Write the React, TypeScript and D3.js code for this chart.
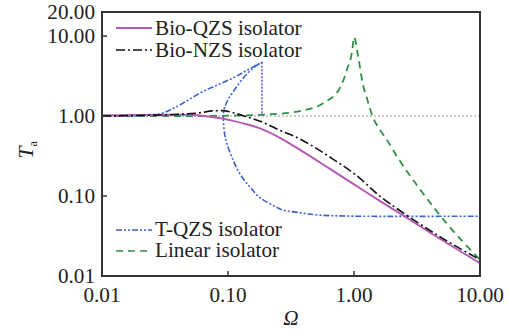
import React from "react";
import * as d3 from "d3";

// ---- Data ----
const xTicks = [0.01, 0.1, 1, 10];
const xTickLabels = ["0.01", "0.10", "1.00", "10.00"];
const yTicks = [0.01, 0.1, 1, 10, 20];
const yTickLabels = ["0.01", "0.10", "1.00", "10.00", "20.00"];

const bioQzsOmega = [0.01, 0.02, 0.04, 0.053, 0.072, 0.09, 0.11, 0.14, 0.18, 0.26, 0.37, 0.64, 1.0, 1.6, 2.6, 4.0, 10];
const bioQzsTa = [1.02, 1.03, 1.04, 1.03, 0.98, 0.93, 0.87, 0.79, 0.7, 0.53, 0.38, 0.22, 0.14, 0.087, 0.054, 0.035, 0.0145];

const bioNzsOmega = [0.01, 0.02, 0.04, 0.06, 0.075, 0.09, 0.11, 0.14, 0.18, 0.26, 0.37, 0.47, 0.68, 1.05, 1.6, 2.6, 4.8, 10];
const bioNzsTa = [1.0, 1.02, 1.05, 1.1, 1.16, 1.17, 1.1, 0.98, 0.86, 0.66, 0.52, 0.42, 0.29, 0.18, 0.1, 0.058, 0.031, 0.016];

const tQzsOmega = [0.01, 0.02, 0.028, 0.035, 0.044, 0.06, 0.08, 0.109, 0.14, 0.186,
  0.158, 0.13, 0.112, 0.1, 0.093, 0.092, 0.094, 0.098, 0.11, 0.124, 0.149, 0.18, 0.24, 0.27, 0.37, 0.51, 1.0, 10];
const tQzsTa = [1.0, 1.01, 1.05, 1.2, 1.45, 1.94, 2.4, 2.98, 3.7, 4.7,
  3.98, 2.9, 2.1, 1.6, 1.2, 0.9, 0.6, 0.45, 0.28, 0.19, 0.13, 0.095, 0.073, 0.067, 0.062, 0.058, 0.056, 0.056];

const jumpOmega = [0.186, 0.186];
const jumpTa = [4.7, 1.0];

const linearOmega = [0.01, 0.05, 0.1, 0.215, 0.39, 0.57, 0.78, 0.88, 0.97, 1.0, 1.08, 1.17, 1.27, 1.4, 1.6, 1.83, 2.2, 3.5, 5.4, 10];
const linearTa = [1.0, 1.0, 1.01, 1.05, 1.17, 1.45, 2.3, 3.8, 6.7, 9.7, 5.5, 2.6, 1.65, 1.0, 0.68, 0.5, 0.31, 0.11, 0.046, 0.016];

const legendTop = ["Bio-QZS isolator", "Bio-NZS isolator"];
const legendBottom = ["T-QZS isolator", "Linear isolator"];

// ---- Layout ----
const W = 511, H = 331;
const L = 102, R = 480, T = 12, B = 276;
const FONT = "'Liberation Serif', 'DejaVu Serif', serif";

const C_MAG = "#b45ab4";
const C_BLK = "#111111";
const C_BLUE = "#3a64cc";
const C_GREEN = "#2f8f45";
const C_JUMP = "#5b55d6";

const DASH_BLK = "9,3,2,3";
const DASH_BLUE = "6,2,2,2,2,2";
const DASH_GREEN = "7,5";

function SText({ x, y, anchor = "start", size = 20, children, italic = false }: any) {
  return (
    <text
      transform={`translate(${x},${y}) scale(1.06,1)`}
      textAnchor={anchor}
      fontFamily={FONT}
      fontSize={size}
      fontStyle={italic ? "italic" : "normal"}
      fill="#222"
    >
      {children}
    </text>
  );
}

export default function App() {
  const x = d3.scaleLog().domain([0.01, 10]).range([L, R]);
  const y = d3.scaleLog().domain([0.01, 20]).range([B, T]);

  const mk = (xs: number[], ys: number[], curve: any = d3.curveCatmullRom.alpha(0.5)) =>
    d3
      .line<number>()
      .x((_, i) => x(xs[i]))
      .y((_, i) => y(ys[i]))
      .curve(curve)(xs) as string;

  const pMag = mk(bioQzsOmega, bioQzsTa, d3.curveMonotoneX);
  const pBlk = mk(bioNzsOmega, bioNzsTa, d3.curveMonotoneX);
  const pBlue = mk(tQzsOmega, tQzsTa);
  const pJump = mk(jumpOmega, jumpTa, d3.curveLinear);
  const pGreen = mk(linearOmega, linearTa, d3.curveMonotoneX);

  const topStyles = [
    { c: C_MAG, d: undefined },
    { c: C_BLK, d: DASH_BLK },
  ];
  const botStyles = [
    { c: C_BLUE, d: DASH_BLUE },
    { c: C_GREEN, d: DASH_GREEN },
  ];

  return (
    <svg
      width={W}
      height={H}
      style={{ position: "absolute", left: 0, top: 0, background: "#fff" }}
    >
      <defs>
        <clipPath id="plotclip">
          <rect x={L} y={T} width={R - L} height={B - T} />
        </clipPath>
      </defs>
      <rect x={0} y={0} width={W} height={H} fill="#fff" />

      {/* reference line at Ta = 1 */}
      <line x1={L} x2={R} y1={y(1)} y2={y(1)} stroke="#9a9a9a" strokeWidth={1} strokeDasharray="2,2" />

      <g clipPath="url(#plotclip)" fill="none">
        <path d={pGreen} stroke={C_GREEN} strokeWidth={1.8} strokeDasharray={DASH_GREEN} />
        <path d={pJump} stroke={C_JUMP} strokeWidth={1.5} strokeDasharray="2,1.5" />
        <path d={pBlue} stroke={C_BLUE} strokeWidth={1.6} strokeDasharray={DASH_BLUE} />
        <path d={pMag} stroke={C_MAG} strokeWidth={2} />
        <path d={pBlk} stroke={C_BLK} strokeWidth={1.6} strokeDasharray={DASH_BLK} />
      </g>

      {/* frame */}
      <rect x={L} y={T} width={R - L} height={B - T} fill="none" stroke="#333" strokeWidth={2} />

      {/* ticks */}
      {yTicks.filter((t) => t > 0.01 && t < 20).map((t) => (
        <line key={"yt" + t} x1={L} x2={L + 5} y1={y(t)} y2={y(t)} stroke="#333" strokeWidth={1.5} />
      ))}
      {xTicks.filter((t) => t > 0.01 && t < 10).map((t) => (
        <line key={"xt" + t} x1={x(t)} x2={x(t)} y1={B} y2={B - 5} stroke="#333" strokeWidth={1.5} />
      ))}

      {/* tick labels */}
      {yTicks.map((t, i) => (
        <SText key={"yl" + t} x={95} y={y(t) + 7} anchor="end">
          {yTickLabels[i]}
        </SText>
      ))}
      {xTicks.map((t, i) => (
        <SText key={"xl" + t} x={x(t)} y={302} anchor="middle">
          {xTickLabels[i]}
        </SText>
      ))}

      {/* axis titles */}
      <text
        transform={`translate(33,150) rotate(-90)`}
        textAnchor="middle"
        fontFamily={FONT}
        fill="#222"
      >
        <tspan fontSize={22} fontStyle="italic">T</tspan>
        <tspan fontSize={12} dy={4}>a</tspan>
      </text>
      <SText x={291} y={325} anchor="middle" italic>
        Ω
      </SText>

      {/* legends */}
      {legendTop.map((lab, i) => (
        <g key={lab}>
          <line x1={116} x2={152} y1={28 + i * 22} y2={28 + i * 22} stroke={topStyles[i].c}
            strokeWidth={i === 0 ? 2 : 1.6} strokeDasharray={topStyles[i].d} />
          <SText x={155} y={35 + i * 22}>{lab}</SText>
        </g>
      ))}
      {legendBottom.map((lab, i) => (
        <g key={lab}>
          <line x1={116} x2={152} y1={230 + i * 21} y2={230 + i * 21} stroke={botStyles[i].c}
            strokeWidth={1.6} strokeDasharray={botStyles[i].d} />
          <SText x={155} y={236 + i * 21}>{lab}</SText>
        </g>
      ))}
    </svg>
  );
}
